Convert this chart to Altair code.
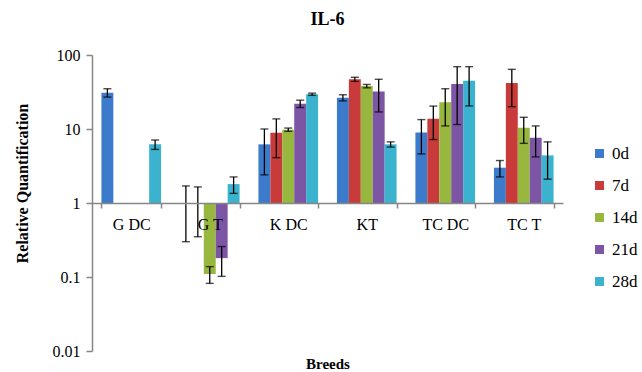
import altair as alt
import pandas as pd

breeds = ["G DC", "G T", "K DC", "KT", "TC DC", "TC T"]
series = ["0d", "7d", "14d", "21d", "28d"]
colors = ["#3C7BCB", "#C93B3B", "#97B73E", "#7C56A5", "#3BB2CE"]

# mean values (None = no bar) and error (+/-) per series, in breed order
v_0d = [31, 1.0, 6.2, 26.5, 9.0, 3.0]
e_0d = [4, 0.7, 3.8, 2.5, 4.4, 0.75]
v_7d = [None, 1.0, 8.9, 47, 13.8, 42]
e_7d = [None, 0.65, 4.8, 3, 6.6, 22]
v_14d = [None, 0.11, 9.8, 38, 23, 10.4]
e_14d = [None, 0.028, 0.5, 2, 12, 4]
v_21d = [None, 0.18, 22, 32, 40.5, 7.6]
e_21d = [None, 0.078, 2.5, 15, 29, 3.4]
v_28d = [6.2, 1.8, 29.5, 6.2, 45, 4.4]
e_28d = [0.9, 0.45, 1, 0.5, 24.5, 2.3]

vals = [v_0d, v_7d, v_14d, v_21d, v_28d]
errs = [e_0d, e_7d, e_14d, e_21d, e_28d]

rows = []
for s, vs, es in zip(series, vals, errs):
    for b, v, e in zip(breeds, vs, es):
        if v is None:
            continue
        rows.append({"breed": b, "series": s, "value": v, "lo": v - e, "hi": v + e})
df = pd.DataFrame(rows)

FONT = "Liberation Serif"
GRAY = "#868686"

yscale = alt.Scale(type="log", domain=[0.01, 100])
yaxis = alt.Axis(
    values=[0.01, 0.1, 1, 10, 100], format="~g", grid=False,
    tickSize=6, tickColor=GRAY, tickWidth=1.5, domainColor=GRAY, domainWidth=1.5,
    labelFont=FONT, labelFontSize=16, labelColor="black", labelPadding=6,
    title="Relative Quantification", titleFont=FONT, titleFontSize=16,
    titleFontWeight="bold", titleColor="black", titleAngle=270,
    titleX=-70, titleY=128, titleAlign="center", titleBaseline="middle",
)

base = alt.Chart(df).encode(
    x=alt.X(
        "breed:N", sort=breeds,
        scale=alt.Scale(paddingInner=0.24, paddingOuter=0.12),
        axis=alt.Axis(
            title="Breeds", orient="bottom", offset=-148, tickBand="extent",
            zindex=1,
            labelAngle=0, labelFont=FONT, labelFontSize=16, labelColor="black",
            labelPadding=8, tickSize=5, tickColor=GRAY, tickWidth=1.5,
            domainColor=GRAY, domainWidth=1.5,
            titleFont=FONT, titleFontSize=15, titleFontWeight="bold",
            titleColor="black", titleY=160, titleBaseline="middle",
        ),
    ),
    xOffset=alt.XOffset("series:N", sort=series,
                        scale=alt.Scale(paddingInner=0, paddingOuter=0)),
)

bars = base.mark_bar().encode(
    y=alt.Y("value:Q", scale=yscale, axis=yaxis),
    y2=alt.datum(1),
    color=alt.Color(
        "series:N", sort=series,
        scale=alt.Scale(domain=series, range=colors),
        legend=alt.Legend(
            title=None, orient="none", legendX=499, legendY=90,
            symbolType="square", symbolSize=81, symbolStrokeWidth=0,
            labelFont=FONT, labelFontSize=17, labelColor="black",
            rowPadding=14, padding=0, labelOffset=4,
        ),
    ),
)

rules = base.mark_rule(color="black", strokeWidth=1.3).encode(
    y=alt.Y("lo:Q", scale=yscale, axis=yaxis), y2="hi:Q"
)
cap_lo = base.mark_tick(color="black", size=8, thickness=1.4).encode(
    y=alt.Y("lo:Q", scale=yscale, axis=yaxis)
)
cap_hi = base.mark_tick(color="black", size=8, thickness=1.4).encode(
    y=alt.Y("hi:Q", scale=yscale, axis=yaxis)
)

chart = alt.layer(bars, rules, cap_lo, cap_hi).properties(
    width=471, height=296,
    autosize=alt.AutoSizeParams(type="none"),
    padding={"left": 92, "top": 55, "right": 79, "bottom": 21},
    title=alt.TitleParams("IL-6", font=FONT, fontSize=18, fontWeight="bold",
                          color="black", offset=18, anchor="middle"),
    background="white",
).configure_view(stroke=None)

chart.save("out.html", embed_options={"renderer": "svg", "actions": False})
